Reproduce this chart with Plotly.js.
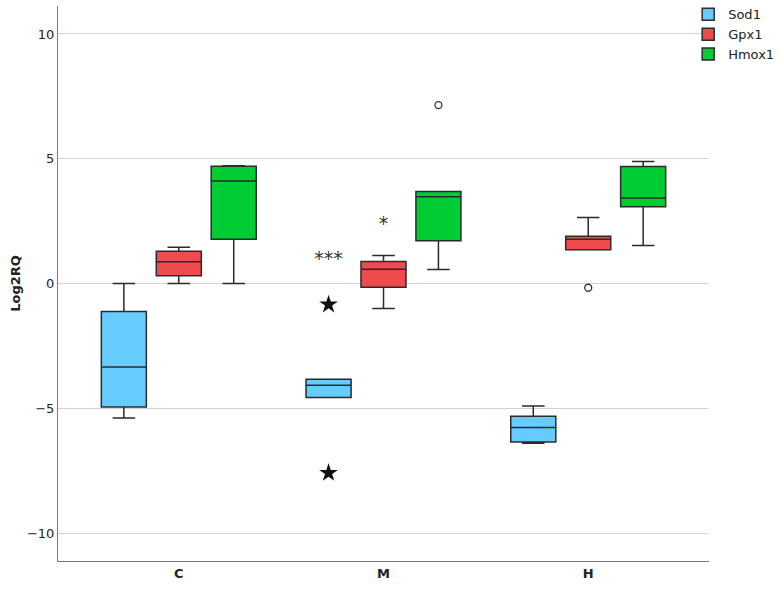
<!DOCTYPE html>
<html>
<head>
<meta charset="utf-8">
<script src="https://cdn.plot.ly/plotly-3.0.1.min.js"></script>
<style>html,body{margin:0;padding:0;background:#fff;}#chart{width:784px;height:591px;}</style>
</head>
<body>
<div id="chart"></div>
<script>
// Categories
const groups = ["C", "M", "H"];
const genes = ["Sod1", "Gpx1", "Hmox1"];
const geneColors = ["#66ccff", "#ef4b4d", "#00cc33"];

// Box statistics per gene, ordered as groups C, M, H
const sod1Lower = [-5.39, -4.57, -6.40];
const sod1Q1 = [-4.95, -4.57, -6.35];
const sod1Median = [-3.35, -4.08, -5.77];
const sod1Q3 = [-1.12, -3.84, -5.32];
const sod1Upper = [0.0, -3.84, -4.91];

const gpx1Lower = [0.0, -1.00, 1.35];
const gpx1Q1 = [0.31, -0.15, 1.35];
const gpx1Median = [0.87, 0.57, 1.77];
const gpx1Q3 = [1.29, 0.88, 1.89];
const gpx1Upper = [1.45, 1.12, 2.64];

const hmox1Lower = [0.0, 0.56, 1.52];
const hmox1Q1 = [1.77, 1.71, 3.08];
const hmox1Median = [4.11, 3.48, 3.43];
const hmox1Q3 = [4.70, 3.69, 4.69];
const hmox1Upper = [4.72, 3.69, 4.89];

// Outliers
const sod1ExtremeGroup = ["M", "M"];
const sod1ExtremeValue = [-0.84, -7.59];
const gpx1OutlierGroup = ["H"];
const gpx1OutlierValue = [-0.17];
const hmox1OutlierGroup = ["M"];
const hmox1OutlierValue = [7.15];

// Significance marks
const sigSod1Group = ["M"];
const sigSod1Value = [0.95];
const sigSod1Text = ["***"];
const sigGpx1Group = ["M"];
const sigGpx1Value = [2.35];
const sigGpx1Text = ["*"];

const stats = [
  [sod1Lower, sod1Q1, sod1Median, sod1Q3, sod1Upper],
  [gpx1Lower, gpx1Q1, gpx1Median, gpx1Q3, gpx1Upper],
  [hmox1Lower, hmox1Q1, hmox1Median, hmox1Q3, hmox1Upper]
];

const traces = genes.map((g, i) => ({
  type: "box",
  name: g,
  x: groups,
  lowerfence: stats[i][0],
  q1: stats[i][1],
  median: stats[i][2],
  q3: stats[i][3],
  upperfence: stats[i][4],
  fillcolor: geneColors[i],
  line: {color: "#2b2b2b", width: 1.5},
  whiskerwidth: 0.5,
  offsetgroup: String(i),
  hoverinfo: "skip"
}));

traces.push({
  type: "scatter", mode: "markers", x: sod1ExtremeGroup, y: sod1ExtremeValue,
  offsetgroup: "0", showlegend: false,
  marker: {symbol: "star", size: 14, color: "#111"}, hoverinfo: "skip"
});
traces.push({
  type: "scatter", mode: "markers", x: gpx1OutlierGroup, y: gpx1OutlierValue,
  offsetgroup: "1", showlegend: false,
  marker: {symbol: "circle-open", size: 7, color: "#333", line: {width: 1.3}}, hoverinfo: "skip"
});
traces.push({
  type: "scatter", mode: "markers", x: hmox1OutlierGroup, y: hmox1OutlierValue,
  offsetgroup: "2", showlegend: false,
  marker: {symbol: "circle-open", size: 7, color: "#333", line: {width: 1.3}}, hoverinfo: "skip"
});
traces.push({
  type: "scatter", mode: "text", x: sigSod1Group, y: sigSod1Value, text: sigSod1Text,
  offsetgroup: "0", showlegend: false,
  textfont: {family: "DejaVu Sans", size: 19, color: "#333"}, hoverinfo: "skip"
});
traces.push({
  type: "scatter", mode: "text", x: sigGpx1Group, y: sigGpx1Value, text: sigGpx1Text,
  offsetgroup: "1", showlegend: false,
  textfont: {family: "DejaVu Sans", size: 19, color: "#333"}, hoverinfo: "skip"
});

const layout = {
  width: 784, height: 591,
  margin: {l: 58, r: 75, t: 6, b: 30, autoexpand: false},
  paper_bgcolor: "#ffffff",
  plot_bgcolor: "#ffffff",
  font: {family: "DejaVu Sans", size: 13, color: "#222"},
  boxmode: "group",
  boxgap: 0.195,
  boxgroupgap: 0.18,
  scattermode: "group",
  scattergap: 0.195,
  showlegend: true,
  legend: {
    x: 0.968, xanchor: "left", y: 1.012, yanchor: "top",
    font: {family: "DejaVu Sans", size: 13, color: "#222"},
    bgcolor: "rgba(0,0,0,0)", tracegroupgap: 0, itemwidth: 30
  },
  xaxis: {
    type: "category",
    categoryorder: "array", categoryarray: groups,
    range: [-0.59, 2.59],
    showline: true, linecolor: "#777", linewidth: 1,
    showgrid: false, zeroline: false, ticks: "",
    tickfont: {family: "DejaVu Sans", size: 13, color: "#222", weight: "bold"},
    mirror: false
  },
  yaxis: {
    range: [-11.12, 11.12],
    tickvals: [-10, -5, 0, 5, 10],
    ticktext: ["\u221210", "\u22125", "0", "5", "10"],
    showline: true, linecolor: "#777", linewidth: 1,
    showgrid: true, gridcolor: "#d4d4d4", gridwidth: 1,
    zeroline: false, ticks: "",
    tickfont: {family: "DejaVu Sans", size: 13, color: "#222"},
    title: {text: "<b>Log2RQ</b>", font: {family: "DejaVu Sans", size: 13, color: "#222"}, standoff: 3}
  }
};

Plotly.newPlot("chart", traces, layout, {displayModeBar: false, staticPlot: true});
</script>
</body>
</html>
